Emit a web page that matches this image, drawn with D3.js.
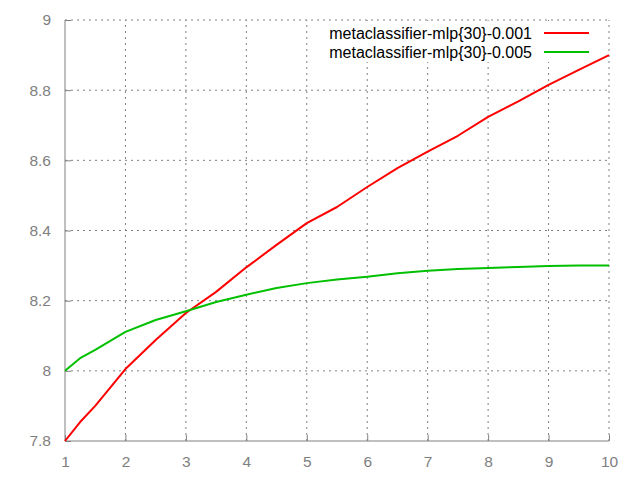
<!DOCTYPE html>
<html><head><meta charset="utf-8">
<script src="https://cdn.jsdelivr.net/npm/d3@7"></script>
<style>body{margin:0;background:#fff}svg{display:block}</style>
</head><body>
<svg id="c" width="640" height="480"></svg>
<script>
const xValues = [1, 1.25, 1.5, 2, 2.5, 3, 3.5, 4, 4.5, 5, 5.5, 6, 6.5, 7, 7.5, 8, 8.5, 9, 9.5, 10];
const seriesNames = ["metaclassifier-mlp{30}-0.001", "metaclassifier-mlp{30}-0.005"];
const redValues = [7.80, 7.854, 7.90, 8.005, 8.088, 8.165, 8.225, 8.295, 8.359, 8.421, 8.467, 8.524, 8.578, 8.625, 8.67, 8.724, 8.768, 8.815, 8.858, 8.90];
const greenValues = [8.0, 8.036, 8.06, 8.111, 8.145, 8.17, 8.196, 8.217, 8.236, 8.25, 8.26, 8.268, 8.278, 8.285, 8.29, 8.293, 8.296, 8.299, 8.3, 8.3];
const xTicks = [1, 2, 3, 4, 5, 6, 7, 8, 9, 10];
const yTicks = [7.8, 8, 8.2, 8.4, 8.6, 8.8, 9];
const colors = ["#ff0000", "#00c000"];

const svg = d3.select("#c");
const L = 65, R = 609, T = 20, B = 441;
const x = d3.scaleLinear().domain([1, 10]).range([L, R]);
const y = d3.scaleLinear().domain([7.8, 9]).range([B, T]);
const gray = "#808080";
const font = "'Liberation Sans', Arial, sans-serif";

// grid
const g = svg.append("g");
g.selectAll(".gx").data(xTicks.slice(1)).enter().append("line")
  .attr("x1", d => x(d)).attr("x2", d => x(d)).attr("y1", B).attr("y2", T)
  .attr("stroke", gray).attr("stroke-width", 1).attr("stroke-dasharray", "2,4");
g.selectAll(".gy").data(yTicks.slice(1)).enter().append("line")
  .attr("y1", d => y(d)).attr("y2", d => y(d)).attr("x1", L).attr("x2", R)
  .attr("stroke", gray).attr("stroke-width", 1).attr("stroke-dasharray", "2,4");

// legend background (covers grid)
svg.append("rect").attr("x", 322).attr("y", 21).attr("width", 282).attr("height", 41).attr("fill", "#fff");

// axes
const xAxis = d3.axisBottom(x).tickValues(xTicks).tickSize(-6).tickPadding(15).tickFormat(d3.format("d"));
const gx = svg.append("g").attr("transform", `translate(0,${B})`).call(xAxis);
gx.attr("font-size", null).attr("font-family", null);
gx.select(".domain").attr("stroke", gray).attr("d", `M${L},0H${R}`);
gx.selectAll(".tick line").attr("stroke", gray);
gx.selectAll(".tick text").attr("fill", gray).style("font-size", "15.5px").style("font-family", font).attr("dy", "0.71em");

const yAxis = d3.axisLeft(y).tickValues(yTicks).tickSize(-6).tickPadding(14).tickFormat(d => d3.format("")(+d.toFixed(1)));
const gy = svg.append("g").attr("transform", `translate(${L},0)`).call(yAxis);
gy.attr("font-size", null).attr("font-family", null);
gy.select(".domain").attr("stroke", gray).attr("d", `M0,${B}V${T}`);
gy.selectAll(".tick line").attr("stroke", gray);
gy.selectAll(".tick text").attr("fill", gray).style("font-size", "15.5px").style("font-family", font);

// lines
const line = d3.line().x((d, i) => x(xValues[i])).y(d => y(d));
[redValues, greenValues].forEach((vals, k) => {
  svg.append("path").attr("d", line(vals)).attr("fill", "none")
    .attr("stroke", colors[k]).attr("stroke-width", 2).attr("stroke-linejoin", "round");
});

// legend
seriesNames.forEach((name, k) => {
  const yy = 33 + k * 19;
  svg.append("text").attr("x", 532).attr("y", yy).attr("dy", "0.35em")
    .attr("text-anchor", "end").style("font-family", font).style("font-size", "16px").attr("fill", "#000").text(name);
  svg.append("line").attr("x1", 544).attr("x2", 589).attr("y1", yy).attr("y2", yy)
    .attr("stroke", colors[k]).attr("stroke-width", 2);
});
</script>
</body></html>
